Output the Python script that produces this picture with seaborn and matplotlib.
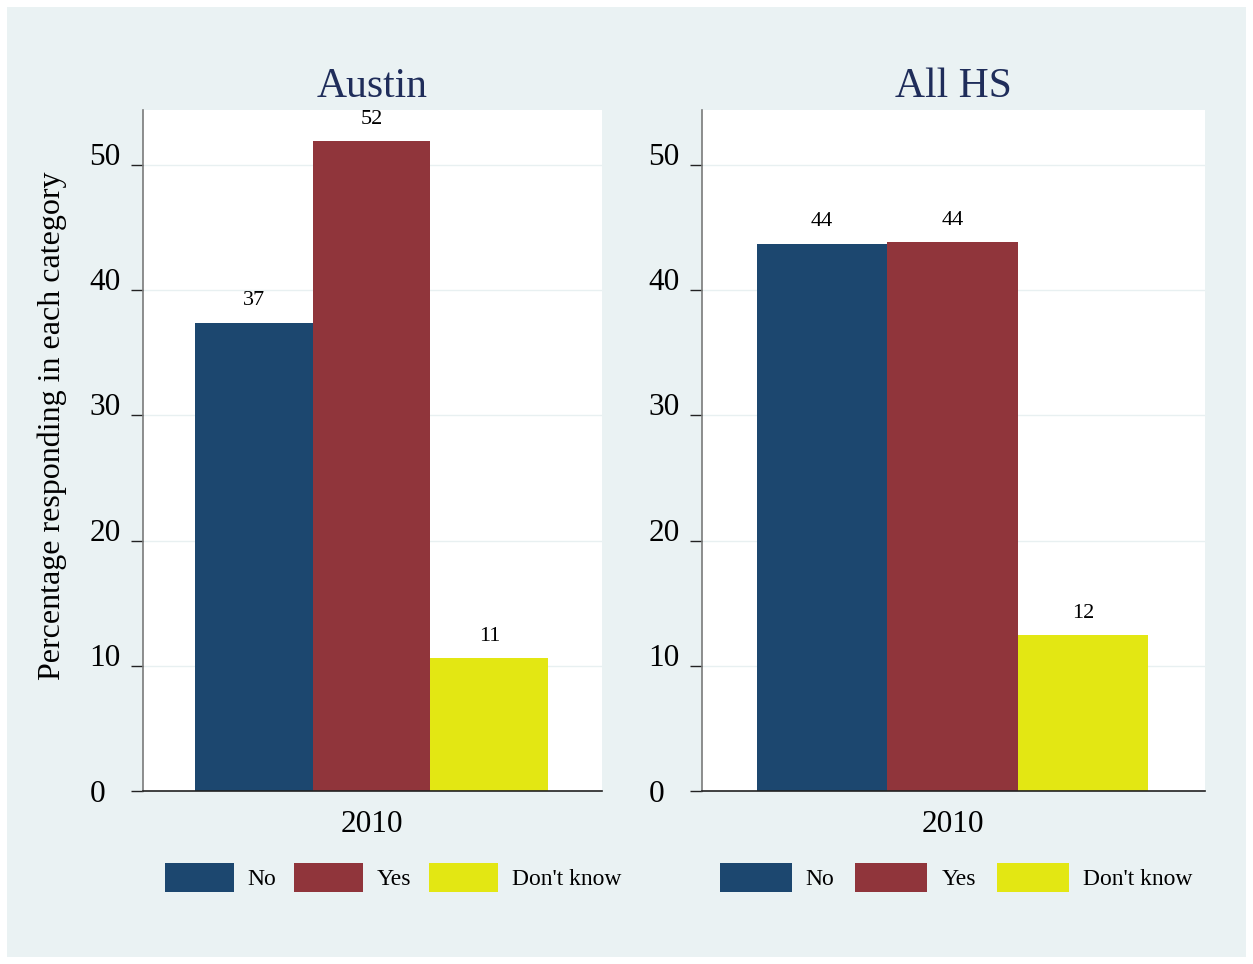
import matplotlib
matplotlib.use("Agg")
import matplotlib.pyplot as plt
import matplotlib.transforms as mtransforms
import seaborn as sns
import pandas as pd
from matplotlib.patches import Rectangle

# ── data ──
years = ["2010"]
responses = ["No", "Yes", "Don't know"]
panels = ["Austin", "All HS"]
austin_pct = [37.4, 51.9, 10.6]
allhs_pct = [43.7, 43.85, 12.45]

colors = ["#1c476f", "#90353b", "#e3e713"]
bg = "#eaf2f3"
title_color = "#1f2d5a"

rows = []
for panel, vals in zip(panels, [austin_pct, allhs_pct]):
    for resp, v in zip(responses, vals):
        rows.append({"panel": panel, "year": years[0], "response": resp, "pct": v})
df = pd.DataFrame(rows)

sns.set_theme(style="white")
plt.rcParams["font.family"] = ["Liberation Serif", "DejaVu Serif"]
plt.rcParams["text.color"] = "black"
plt.rcParams["axes.labelcolor"] = "black"
plt.rcParams["xtick.color"] = "black"
plt.rcParams["ytick.color"] = "black"

fig = plt.figure(figsize=(12.53, 9.64), dpi=100, facecolor="white")
fig.patches.append(Rectangle((7 / 1253, 7 / 964), 1239 / 1253, 950 / 964,
                             transform=fig.transFigure, facecolor=bg,
                             edgecolor="none", zorder=-10))

ax1 = fig.add_axes([143 / 1253, 1 - 791 / 964, 459 / 1253, 681 / 964])
ax2 = fig.add_axes([702 / 1253, 1 - 791 / 964, 503 / 1253, 681 / 964])

# per-panel legend tweaks (x anchor, handle length, column spacing)
leg_opts = [(0.545, 2.9, 0.75), (0.505, 3.05, 0.88)]

for ax, panel, xl, lo in zip([ax1, ax2], panels,
                             [(-0.518, 0.522), (-0.5125, 0.5166)], leg_opts):
    sub = df[df["panel"] == panel]
    sns.barplot(data=sub, x="year", y="pct", hue="response", hue_order=responses,
                palette=colors, saturation=1, width=0.8, linewidth=0, ax=ax)
    for c in ax.containers:
        ax.bar_label(c, fmt="%.0f", padding=9, fontsize=16, color="black")

    ax.set_facecolor("white")
    ax.set_xlim(*xl)
    ax.set_ylim(0, 54.4)
    ax.set_yticks([0, 10, 20, 30, 40, 50])
    ax.grid(axis="y", color="#e8f0f1", linewidth=1)
    ax.set_axisbelow(True)
    for s in ["top", "right"]:
        ax.spines[s].set_visible(False)
    ax.spines["left"].set_color("#7a7a7a")
    ax.spines["left"].set_linewidth(1.2)
    ax.spines["bottom"].set_color("#222222")
    ax.spines["bottom"].set_linewidth(1.2)
    ax.tick_params(axis="y", length=9, width=1, color="#222222", pad=7,
                   labelsize=22.5, left=True)
    ax.tick_params(axis="x", length=0, pad=14, labelsize=22.5)

    # labels above zero sit on their tick, "0" sits a bit further left (Stata look)
    ylabs = ax.get_yticklabels()
    for lab in ylabs[1:]:
        lab.set_va("baseline")
    shift = mtransforms.ScaledTranslation(-0.15, 0, fig.dpi_scale_trans)
    ylabs[0].set_transform(ylabs[0].get_transform() + shift)

    ax.set_xlabel("")
    ax.set_ylabel("")
    ax.set_title(panel, fontsize=30, color=title_color, pad=9)

    handles, labels = ax.get_legend_handles_labels()
    ax.legend(handles, labels, loc="center", bbox_to_anchor=(lo[0], -0.127),
              ncol=3, frameon=False, fontsize=17, handlelength=lo[1],
              handleheight=1.5, handletextpad=0.6, columnspacing=lo[2])

ax1.set_ylabel("Percentage responding in each category", fontsize=23)
ax1.yaxis.set_label_coords(-0.166, 0.536)

fig.savefig("out.png", dpi=100, facecolor="white")
